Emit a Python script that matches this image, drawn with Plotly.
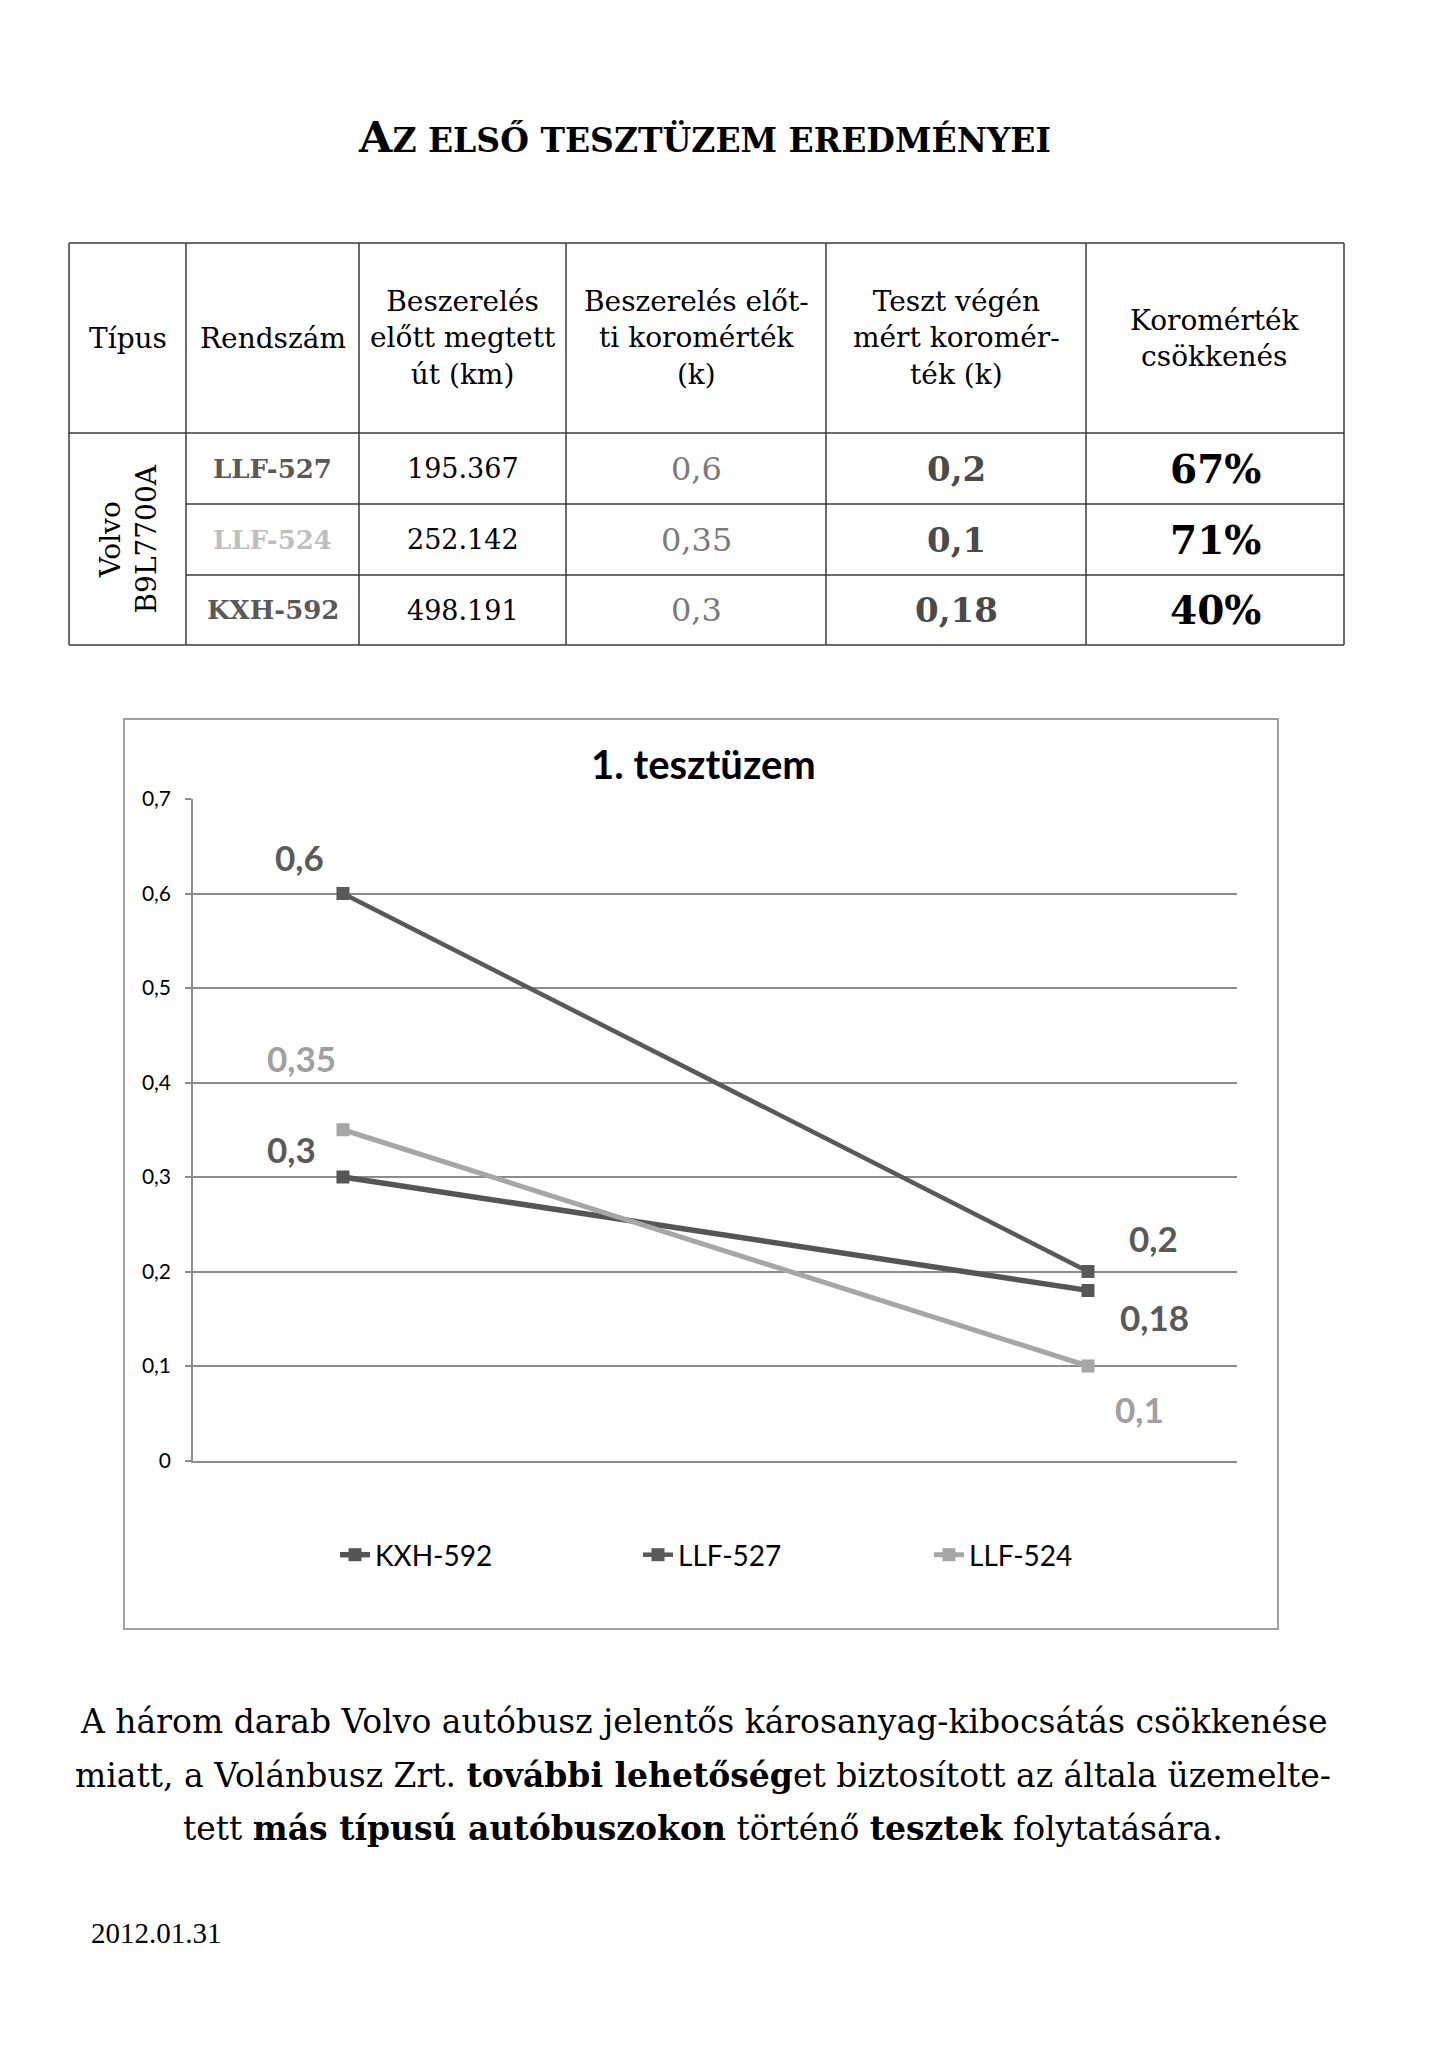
import plotly.graph_objects as go

W, H = 1448, 2048


def px(x):
    return x / W


def py(y):
    return 1 - y / H


# ---------------- chart data ----------------
stages = [0, 1]  # before install, end of test
series_names = ["KXH-592", "LLF-527", "LLF-524"]
kxh_592 = [0.3, 0.18]
llf_527 = [0.6, 0.2]
llf_524 = [0.35, 0.1]
y_ticks = [0, 0.1, 0.2, 0.3, 0.4, 0.5, 0.6, 0.7]
chart_title = "1. tesztüzem"

# ---------------- table data ----------------
header_labels = [
    "Típus",
    "Rendszám",
    "Beszerelés<br>előtt megtett<br>út (km)",
    "Beszerelés előt-<br>ti koromérték<br>(k)",
    "Teszt végén<br>mért koromér-<br>ték (k)",
    "Koromérték<br>csökkenés",
]
bus_type = "Volvo<br>B9L7700A"
plates = ["LLF-527", "LLF-524", "KXH-592"]
km_before = ["195.367", "252.142", "498.191"]
k_before = ["0,6", "0,35", "0,3"]
k_after = ["0,2", "0,1", "0,18"]
reduction = ["67%", "71%", "40%"]

paragraph_lines = [
    "A három darab Volvo autóbusz jelentős károsanyag-kibocsátás csökkenése",
    "miatt, a Volánbusz Zrt. <b>további lehetőség</b>et biztosított az általa üzemelte-",
    "tett <b>más típusú autóbuszokon</b> történő <b>tesztek</b> folytatására.",
]
date_text = "2012.01.31"

DARK = "#595959"
DARK2 = "#555555"
LIGHT = "#a6a6a6"
GRID = "#8c8c8c"
SANS = "Lato"
SERIF = "DejaVu Serif"

fig = go.Figure()

series = [
    ("KXH-592", kxh_592, DARK2, 5.5, 258),
    ("LLF-527", llf_527, DARK, 4.5, 246),
    ("LLF-524", llf_524, LIGHT, 5, 200),
]
for name, vals, col, lw, lgw in series:
    fig.add_trace(go.Scatter(
        x=stages, y=vals, name=name, mode="lines+markers",
        line=dict(color=col, width=lw),
        marker=dict(symbol="square", size=13, color=col),
        legendwidth=lgw,
        hoverinfo="skip",
    ))

# data labels (offsets in px from the data point)
label_specs = [
    (llf_527, DARK, [(-43, 37), (65, 34)]),
    (llf_524, "#a0a0a0", [(-41, 72), (51, -43)]),
    (kxh_592, DARK, [(-51, 28), (66, -27)]),
]
annotations = []
for vals, col, offs in label_specs:
    for xi, v, (dx, dy) in zip(stages, vals, offs):
        annotations.append(dict(
            x=xi, y=v, xref="x", yref="y", text=f"<b>{str(v).replace('.', ',')}</b>",
            showarrow=False, xshift=dx, yshift=dy,
            font=dict(family=SANS, size=35, color=col),
        ))

# chart title
annotations.append(dict(
    x=px(703), y=py(764), xref="paper", yref="paper", text=f"<b>{chart_title}</b>",
    showarrow=False, font=dict(family=SANS, size=40, color="#000000"),
    xanchor="center", yanchor="middle",
))

# page title (small caps)
annotations.append(dict(
    x=px(704), y=py(137), xref="paper", yref="paper",
    text='<b><span style="font-size:43px">A</span>Z ELSŐ TESZTÜZEM EREDMÉNYEI</b>',
    showarrow=False, font=dict(family=SERIF, size=33, color="#000000"),
    xanchor="center", yanchor="middle",
))

# ---------------- table ----------------
col_x = [69, 186, 359, 566, 826, 1086, 1344]
row_y = [243, 433, 504, 575, 645]
shapes = []
LC = "#3a3a3a"
for x in col_x:
    shapes.append(dict(type="line", xref="paper", yref="paper",
                       x0=px(x), x1=px(x), y0=py(row_y[0]), y1=py(row_y[-1]),
                       line=dict(color=LC, width=1.5)))
for i, y in enumerate(row_y):
    x0 = col_x[0] if i in (0, 1, len(row_y) - 1) else col_x[1]
    shapes.append(dict(type="line", xref="paper", yref="paper",
                       x0=px(x0), x1=px(col_x[-1]), y0=py(y), y1=py(y),
                       line=dict(color=LC, width=1.5)))

hdr_cy = (row_y[0] + row_y[1]) / 2
for i, lab in enumerate(header_labels):
    annotations.append(dict(
        x=px((col_x[i] + col_x[i + 1]) / 2), y=py(hdr_cy), xref="paper", yref="paper",
        text=lab, showarrow=False, align="center", xanchor="center", yanchor="middle",
        font=dict(family=SERIF, size=28, color="#000000"),
    ))

# rotated type cell
annotations.append(dict(
    x=px((col_x[0] + col_x[1]) / 2), y=py((row_y[1] + row_y[-1]) / 2),
    xref="paper", yref="paper", text=bus_type, textangle=-90, showarrow=False,
    align="center", xanchor="center", yanchor="middle",
    font=dict(family=SERIF, size=28, color="#000000"),
))

plate_colors = ["#595959", "#bfbfbf", "#595959"]
for r in range(3):
    cy = py((row_y[r + 1] + row_y[r + 2]) / 2)
    cells = [
        (1, f"<b>{plates[r]}</b>", 26, plate_colors[r]),
        (2, km_before[r], 27, "#000000"),
        (3, k_before[r], 32, "#7a7a7a"),
        (4, f"<b>{k_after[r]}</b>", 34, "#4a4a4a"),
        (5, f"<b>{reduction[r]}</b>", 39, "#000000"),
    ]
    for c, txt, fs, colr in cells:
        annotations.append(dict(
            x=px((col_x[c] + col_x[c + 1]) / 2), y=cy, xref="paper", yref="paper",
            text=txt, showarrow=False, xanchor="center", yanchor="middle",
            font=dict(family=SERIF, size=fs, color=colr),
        ))

# chart frame
shapes.append(dict(type="rect", xref="paper", yref="paper",
                   x0=px(124), x1=px(1278), y0=py(719), y1=py(1629),
                   line=dict(color="#a0a0a0", width=2), layer="below"))

# paragraph
para_y = [1721, 1775, 1828]
for txt, yy in zip(paragraph_lines, para_y):
    annotations.append(dict(
        x=px(703), y=py(yy), xref="paper", yref="paper", text=txt, showarrow=False,
        xanchor="center", yanchor="middle",
        font=dict(family=SERIF, size=33, color="#000000"),
    ))

annotations.append(dict(
    x=px(89), y=py(1933), xref="paper", yref="paper", text=date_text, showarrow=False,
    xanchor="left", yanchor="middle",
    font=dict(family="Liberation Serif", size=29, color="#000000"),
))

fig.update_layout(
    width=W, height=H,
    margin=dict(l=0, r=0, t=0, b=0, autoexpand=False),
    paper_bgcolor="white", plot_bgcolor="white",
    separators=", ",
    showlegend=True,
    legend=dict(
        orientation="h", x=px(335), y=py(1555), xanchor="left", yanchor="middle",
        font=dict(family=SANS, size=28, color="#000000"),
        entrywidthmode="pixels", bgcolor="rgba(0,0,0,0)",
    ),
    xaxis=dict(
        domain=[px(193), px(1237)], range=[-0.2013, 1.2],
        showticklabels=False, showgrid=False, zeroline=False,
        showline=True, linecolor=GRID, linewidth=1.5, ticks="",
        fixedrange=True, automargin=False,
    ),
    yaxis=dict(
        domain=[py(1460.5), py(799)], range=[0, 0.7],
        tickvals=y_ticks, ticks="outside", ticklen=6, tickcolor=GRID, tickwidth=1.5,
        showgrid=True, gridcolor=GRID, gridwidth=1.5, zeroline=False,
        showline=True, linecolor=GRID, linewidth=1.5,
        tickfont=dict(family=SANS, size=21, color="#000000"),
        ticklabelstandoff=10, fixedrange=True, automargin=False,
    ),
    shapes=shapes,
    annotations=annotations,
)

fig.write_html("out.html", config={"displayModeBar": False},
               post_script="document.body.style.margin='0';")
